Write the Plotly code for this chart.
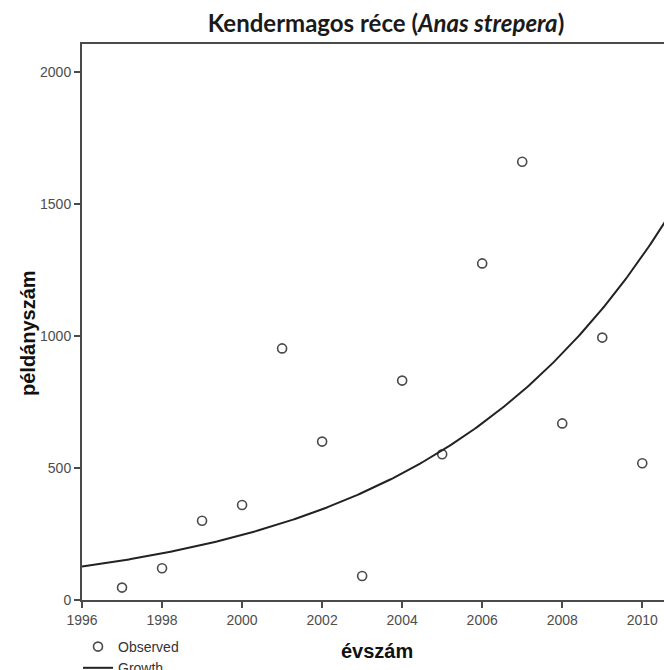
import numpy as np
import plotly.graph_objects as go

years = [1997, 1998, 1999, 2000, 2001, 2002, 2003, 2004, 2005, 2006, 2007, 2008, 2009, 2010]
counts = [47, 120, 300, 360, 953, 600, 91, 831, 552, 1275, 1660, 669, 994, 518]

x_ticks = [1996, 1998, 2000, 2002, 2004, 2006, 2008, 2010]
y_ticks = [0, 500, 1000, 1500, 2000]

# Growth model (SPSS curve fit): ln(y) = b0 + b1 * t, fitted to the observed data
b1, b0 = np.polyfit(np.array(years, float), np.log(np.array(counts, float)), 1)
t_curve = np.linspace(1996, 2010.6, 300)
y_curve = np.exp(b0 + b1 * t_curve)

W, H = 664, 670
L, R, T, B = 82, 0, 44, 70
plot_w = W - L - R
plot_h = H - T - B

AXC = "#4a4a4a"

fig = go.Figure()
fig.add_trace(go.Scatter(
    x=years, y=counts, mode="markers", name="Observed",
    marker=dict(symbol="circle-open", size=9, color=AXC, line=dict(width=1.6, color=AXC)),
))
fig.add_trace(go.Scatter(
    x=t_curve, y=y_curve, mode="lines", name="Growth",
    line=dict(color="#222222", width=2),
))

fig.update_layout(
    width=W, height=H,
    margin=dict(l=L, r=R, t=T, b=B, autoexpand=False),
    paper_bgcolor="white", plot_bgcolor="white",
    font=dict(family="Liberation Sans, Arial, sans-serif", size=14, color="#444"),
    title=dict(
        text="Kendermagos réce (<i>Anas strepera</i>)",
        font=dict(family="Lato, Carlito, sans-serif", size=24, color="#1a1a1a", weight="bold"),
        x=(386 - L) / plot_w, xref="paper", xanchor="center",
        y=1 - 24 / H, yref="container", yanchor="middle",
    ),
    showlegend=True,
    legend=dict(
        x=(78 - L) / plot_w, y=(600 - 631) / plot_h, xanchor="left", yanchor="top",
        font=dict(family="Liberation Sans, Arial, sans-serif", size=14, color="#333"),
        bgcolor="rgba(0,0,0,0)", itemwidth=30, tracegroupgap=0,
    ),
)

fig.update_xaxes(
    range=[1996, 1996 + plot_w / 40.02],
    tickvals=x_ticks, ticktext=[str(v) for v in x_ticks],
    showgrid=False, zeroline=False,
    showline=True, linecolor=AXC, linewidth=2, mirror=True,
    ticks="outside", ticklen=6, tickwidth=2, tickcolor=AXC,
    tickfont=dict(size=14, color="#4d4d4d"),
)
fig.update_yaxes(
    range=[0, plot_h / 0.264],
    tickvals=y_ticks, ticktext=[str(v) for v in y_ticks],
    showgrid=False, zeroline=False,
    showline=True, linecolor=AXC, linewidth=2, mirror=False,
    ticks="outside", ticklen=6, tickwidth=2, tickcolor=AXC,
    tickfont=dict(size=14, color="#4d4d4d"),
)

# Axis titles
fig.add_annotation(
    text="<b>példányszám</b>", xref="paper", yref="paper",
    x=(28 - L) / plot_w, y=(600 - 333) / plot_h, textangle=-90,
    showarrow=False, xanchor="center", yanchor="middle",
    font=dict(family="Liberation Sans, Arial, sans-serif", size=20, color="#111"),
)
fig.add_annotation(
    text="<b>évszám</b>", xref="paper", yref="paper",
    x=(377 - L) / plot_w, y=(600 - 651) / plot_h,
    showarrow=False, xanchor="center", yanchor="middle",
    font=dict(family="Liberation Sans, Arial, sans-serif", size=20, color="#111"),
)

fig.write_html(
    "out.html",
    config={"displayModeBar": False},
    post_script="document.body.style.margin='0';document.body.style.overflow='hidden';",
)
